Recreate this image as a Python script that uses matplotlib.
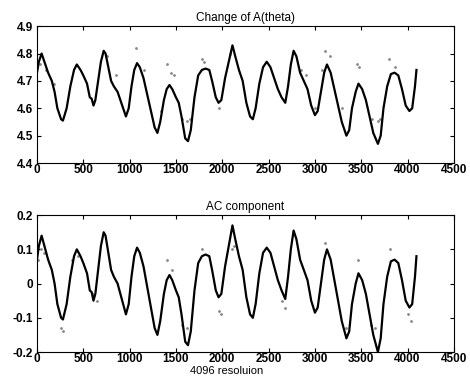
import matplotlib
matplotlib.use("Agg")
import matplotlib.pyplot as plt

plt.rcParams['font.family'] = ['Liberation Sans', 'DejaVu Sans']

# Sample position (4096 resolution)
x = [0, 20, 50, 80, 120, 160, 190, 220, 260, 280, 320, 360, 400, 430, 470, 500,
     540, 570, 590, 610, 630, 660, 690, 720, 740, 770, 800, 830, 870, 900, 930,
     960, 990, 1020, 1050, 1080, 1110, 1150, 1190, 1230, 1270, 1300, 1330, 1370,
     1400, 1430, 1460, 1500, 1530, 1560, 1600, 1630, 1660, 1700, 1740, 1780, 1820,
     1860, 1890, 1930, 1960, 1990, 2030, 2070, 2110, 2140, 2180, 2220, 2260, 2300,
     2330, 2360, 2400, 2440, 2480, 2520, 2560, 2600, 2640, 2680, 2710, 2740, 2770,
     2800, 2840, 2880, 2920, 2960, 3000, 3030, 3070, 3100, 3130, 3170, 3210, 3250,
     3290, 3340, 3370, 3400, 3440, 3470, 3510, 3550, 3590, 3630, 3680, 3710, 3740,
     3780, 3820, 3860, 3900, 3940, 3980, 4020, 4050, 4080, 4096]

a_theta = [4.73, 4.77, 4.80, 4.77, 4.73, 4.70, 4.66, 4.60, 4.56, 4.555, 4.60, 4.68,
           4.74, 4.76, 4.74, 4.72, 4.69, 4.64, 4.635, 4.61, 4.63, 4.70, 4.77, 4.81,
           4.80, 4.75, 4.70, 4.68, 4.66, 4.63, 4.60, 4.57, 4.60, 4.68, 4.74, 4.765,
           4.75, 4.71, 4.65, 4.59, 4.53, 4.51, 4.55, 4.63, 4.67, 4.685, 4.67, 4.64,
           4.62, 4.57, 4.49, 4.48, 4.52, 4.64, 4.72, 4.74, 4.745, 4.74, 4.70, 4.64,
           4.62, 4.63, 4.71, 4.77, 4.83, 4.79, 4.74, 4.70, 4.62, 4.57, 4.56, 4.60,
           4.69, 4.75, 4.77, 4.75, 4.71, 4.67, 4.64, 4.62, 4.68, 4.76, 4.81, 4.79,
           4.73, 4.70, 4.67, 4.61, 4.575, 4.59, 4.67, 4.73, 4.76, 4.73, 4.67, 4.61,
           4.55, 4.50, 4.52, 4.60, 4.66, 4.69, 4.67, 4.63, 4.57, 4.51, 4.47, 4.50,
           4.60, 4.68, 4.725, 4.73, 4.72, 4.67, 4.61, 4.59, 4.60, 4.68, 4.74]

ac = [0.07, 0.11, 0.14, 0.11, 0.07, 0.04, 0.00, -0.06, -0.10, -0.105, -0.06, 0.02,
      0.08, 0.10, 0.08, 0.06, 0.03, -0.02, -0.025, -0.05, -0.03, 0.04, 0.11, 0.15,
      0.14, 0.09, 0.04, 0.02, 0.00, -0.03, -0.06, -0.09, -0.06, 0.02, 0.08, 0.105,
      0.09, 0.05, -0.01, -0.07, -0.13, -0.15, -0.11, -0.03, 0.01, 0.025, 0.01, -0.02,
      -0.04, -0.09, -0.17, -0.18, -0.14, -0.02, 0.06, 0.08, 0.085, 0.08, 0.04, -0.02,
      -0.04, -0.03, 0.05, 0.11, 0.17, 0.13, 0.08, 0.04, -0.04, -0.09, -0.10, -0.06,
      0.03, 0.09, 0.105, 0.09, 0.05, 0.01, -0.02, -0.045, 0.02, 0.10, 0.155, 0.13,
      0.07, 0.04, 0.01, -0.05, -0.085, -0.07, 0.01, 0.07, 0.10, 0.07, 0.01, -0.05,
      -0.11, -0.16, -0.14, -0.06, 0.00, 0.03, 0.01, -0.03, -0.09, -0.15, -0.20, -0.16,
      -0.06, 0.02, 0.065, 0.07, 0.06, 0.01, -0.05, -0.07, -0.06, 0.02, 0.08]

# Faint secondary trace (dots)
faint_x_top = [30, 100, 180, 760, 850, 1070, 1150, 1340, 1400, 1450, 1480, 1570,
               1620, 1650, 1780, 1800, 1960, 2080, 2850, 2900, 3000, 3080, 3110,
               3160, 3290, 3450, 3480, 3620, 3680, 3700, 3800, 3860]
faint_top = [4.76, 4.74, 4.69, 4.79, 4.72, 4.82, 4.74, 4.59, 4.76, 4.73, 4.72, 4.56,
             4.555, 4.56, 4.78, 4.77, 4.60, 4.80, 4.74, 4.72, 4.60, 4.74, 4.81,
             4.79, 4.60, 4.76, 4.75, 4.56, 4.555, 4.56, 4.78, 4.75]

faint_x_ac = [10, 40, 80, 260, 280, 380, 440, 600, 650, 1400, 1460, 1560, 1620,
              1780, 1970, 1990, 2100, 2130, 2640, 2680, 3110, 3340, 3460, 3610,
              3650, 3810, 4010, 4040]
faint_ac = [0.07, 0.10, 0.09, -0.13, -0.14, 0.07, 0.08, -0.03, -0.05, 0.07, 0.04,
            -0.12, -0.13, 0.10, -0.08, -0.09, 0.10, 0.11, -0.05, -0.07, 0.12, -0.13,
            0.07, -0.12, -0.13, 0.10, -0.09, -0.11]

fig = plt.figure(figsize=(4.7, 3.77), dpi=100)
ax1 = fig.add_axes([0.0787, 0.5676, 0.887, 0.363])
ax2 = fig.add_axes([0.0787, 0.0663, 0.887, 0.363])

def style(ax, yt, ylim, ylabels):
    ax.set_xlim(0, 4500)
    ax.set_ylim(*ylim)
    ax.set_xticks([0, 500, 1000, 1500, 2000, 2500, 3000, 3500, 4000, 4500])
    ax.set_yticks(yt)
    ax.set_yticklabels(ylabels)
    ax.tick_params(direction='in', top=True, right=True, length=3, width=0.8,
                   labelsize=8.5)
    ax.tick_params(axis='x', pad=1)
    ax.tick_params(axis='y', pad=3)
    for lab in ax.get_xticklabels() + ax.get_yticklabels():
        lab.set_fontweight('bold')
    for s in ax.spines.values():
        s.set_linewidth(0.8)

ax1.plot(faint_x_top, faint_top, linestyle='none', marker='.', markersize=2,
         color='#888888')
ax1.plot(x, a_theta, color='black', linewidth=1.6)
style(ax1, [4.4, 4.5, 4.6, 4.7, 4.8, 4.9], (4.4, 4.9),
      ['4.4', '4.5', '4.6', '4.7', '4.8', '4.9'])
ax1.set_title('Change of A(theta)', fontsize=8.5, pad=4)

ax2.plot(faint_x_ac, faint_ac, linestyle='none', marker='.', markersize=2,
         color='#888888')
ax2.plot(x, ac, color='black', linewidth=1.6)
style(ax2, [-0.2, -0.1, 0, 0.1, 0.2], (-0.2, 0.2),
      ['-0.2', '-0.1', '0', '0.1', '0.2'])
ax2.set_title('AC component', fontsize=8.5, pad=4)
fig.text(0.0787 + 0.887 * 2050 / 4500, 1 - 371 / 377, '4096 resoluion',
         fontsize=8, ha='center', va='center')

fig.savefig('out.png', dpi=100)
